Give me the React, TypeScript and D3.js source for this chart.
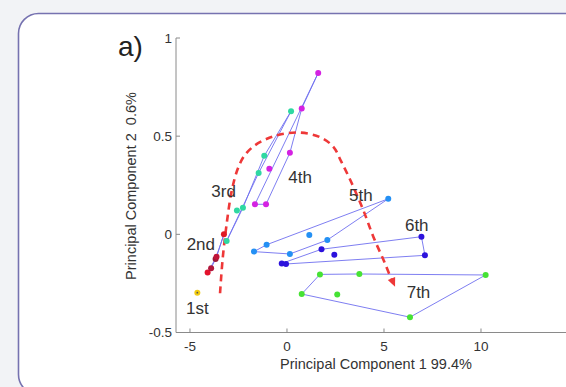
import React from "react";
import * as d3 from "d3";

// ---- data ----
const xTicks = [-5, 0, 5, 10];
const yTicks = [-0.5, 0, 0.5, 1];
const yTickLabels = ["-0.5", "0", "0.5", "1"];

const stage1Points: [number, number][] = [[-4.62, -0.297]];

const stage2Loop: [number, number][] = [
  [-4.09, -0.195], [-3.91, -0.173], [-3.68, -0.125], [-3.25, 0.0], [-3.63, -0.114],
];
const stage2Colors = ["#e3122c", "#b0163c", "#9a1838", "#e01a24", "#c0143a"];

const stage3Loop: [number, number][] = [
  [-3.11, -0.034], [-1.46, 0.313], [0.21, 0.627], [-1.17, 0.4], [-2.27, 0.135],
];
const stage3Extra: [number, number][] = [[-2.58, 0.122]];

const stage4Loop: [number, number][] = [
  [-1.65, 0.153], [-1.08, 0.153], [0.15, 0.415], [0.76, 0.641], [1.61, 0.822],
];
const stage4Extra: [number, number][] = [[-0.91, 0.334]];

const stage5Loop: [number, number][] = [
  [5.22, 0.181], [-1.05, -0.053], [-1.7, -0.088], [0.15, -0.1], [2.08, -0.029],
];
const stage5Extra: [number, number][] = [[1.15, -0.004]];

const stage6Loop: [number, number][] = [
  [-0.27, -0.148], [1.78, -0.076], [6.93, -0.012], [7.11, -0.107], [-0.05, -0.151],
];
const stage6Extra: [number, number][] = [[2.44, -0.104]];

const stage7Loop: [number, number][] = [
  [1.7, -0.204], [3.73, -0.202], [10.24, -0.207], [6.34, -0.422], [0.76, -0.304],
];
const stage7Extra: [number, number][] = [[2.59, -0.307]];

const trendCurve: [number, number][] = [
  [-3.45, -0.3], [-3.32, -0.13], [-3.1, 0.06], [-2.85, 0.22], [-2.55, 0.33],
  [-2.2, 0.4], [-1.7, 0.45], [-1.0, 0.488], [-0.3, 0.51], [0.7, 0.518],
  [1.7, 0.495], [2.39, 0.446], [2.8, 0.37], [3.34, 0.26], [3.93, 0.124],
  [4.45, -0.012], [5.05, -0.148], [5.57, -0.267],
];

const stageLabels = ["1st", "2nd", "3rd", "4th", "5th", "6th", "7th"];
const stageLabelPos: [number, number][] = [
  [-5.2, -0.405], [-5.17, -0.08], [-3.9, 0.19], [0.07, 0.26],
  [3.2, 0.17], [6.08, 0.017], [6.17, -0.325],
];

const xTitle = "Principal Component 1 99.4%";
const yTitle = "Principal Component 2  0.6%";

export default function App() {
  const W = 566, H = 387;
  const x = d3.scaleLinear().domain([-5.72, 15]).range([176, 578]);
  const y = d3.scaleLinear().domain([-0.5, 1]).range([332.5, 38]);

  const loopPath = (pts: [number, number][]) =>
    d3.line<[number, number]>().x((d) => x(d[0])).y((d) => y(d[1])).curve(d3.curveLinearClosed)(pts) || "";

  const trendPath =
    d3.line<[number, number]>().x((d) => x(d[0])).y((d) => y(d[1])).curve(d3.curveCatmullRom.alpha(0.5))(
      trendCurve.slice(0, -1).concat([[
        trendCurve[trendCurve.length - 1][0] - 0.12,
        trendCurve[trendCurve.length - 1][1] + 0.02,
      ]])
    ) || "";

  // arrow head
  const pA = trendCurve[trendCurve.length - 2];
  const pB = trendCurve[trendCurve.length - 1];
  const ax0 = x(pA[0]), ay0 = y(pA[1]);
  const ax1 = x(pB[0]), ay1 = y(pB[1]);
  const ang = Math.atan2(ay1 - ay0, ax1 - ax0);
  const L = 9, Wd = 4;
  const bx = ax1 - L * Math.cos(ang), by = ay1 - L * Math.sin(ang);
  const arrow = [
    [ax1, ay1],
    [bx + Wd * Math.sin(ang), by - Wd * Math.cos(ang)],
    [bx - Wd * Math.sin(ang), by + Wd * Math.cos(ang)],
  ].map((p) => p.join(",")).join(" ");

  const lineColor = "#7070f0";
  const dots = (pts: [number, number][], color: string | string[], key: string) =>
    pts.map((p, i) => (
      <circle
        key={key + i}
        cx={x(p[0])}
        cy={y(p[1])}
        r={3}
        fill={Array.isArray(color) ? color[i % color.length] : color}
      />
    ));

  const font = "Liberation Sans, Arial, Helvetica, sans-serif";

  return (
    <svg
      width={W}
      height={H}
      style={{ position: "fixed", left: 0, top: 0, display: "block" }}
      fontFamily={font}
    >
      <rect x={0} y={0} width={W} height={H} fill="#f2f3f6" />
      <rect x={18.5} y={13.5} width={600} height={381} rx={20} ry={20} fill="#ffffff" stroke="#7672b0" strokeWidth={1.6} />

      <text x={118} y={56} fontSize={28} fill="#222">a)</text>

      {/* axes */}
      <line x1={176} y1={38} x2={176} y2={332.5} stroke="#8a8a8a" strokeWidth={1} />
      <line x1={176} y1={332.5} x2={W} y2={332.5} stroke="#8a8a8a" strokeWidth={1} />
      {yTicks.map((t, i) => (
        <g key={"yt" + i}>
          <line x1={176} x2={180} y1={y(t)} y2={y(t)} stroke="#8a8a8a" />
          <text x={172} y={y(t)} dy="0.35em" textAnchor="end" fontSize={13.5} fill="#333">
            {yTickLabels[i]}
          </text>
        </g>
      ))}
      {xTicks.map((t, i) => (
        <g key={"xt" + i}>
          <line x1={x(t)} x2={x(t)} y1={332.5} y2={328.5} stroke="#8a8a8a" />
          <text x={x(t)} y={351} textAnchor="middle" fontSize={13.5} fill="#333">
            {t}
          </text>
        </g>
      ))}
      <text x={376} y={369} textAnchor="middle" fontSize={14.5} fill="#333">
        {xTitle}
      </text>
      <text
        transform={`translate(${136},${186}) rotate(-90)`}
        textAnchor="middle"
        fontSize={14.5}
        fill="#333"
        style={{ whiteSpace: "pre" }}
      >
        {yTitle}
      </text>

      {/* stage polygons */}
      {[stage2Loop, stage3Loop, stage4Loop, stage5Loop, stage6Loop, stage7Loop].map((pts, i) => (
        <path key={"lp" + i} d={loopPath(pts)} fill="none" stroke={lineColor} strokeWidth={1} strokeOpacity={0.9} />
      ))}

      {/* trend dashed curve */}
      <path d={trendPath} fill="none" stroke="#ee3838" strokeWidth={2.6} strokeDasharray="7,5" />
      <polygon points={arrow} fill="#ee3838" />

      {/* points */}
      {dots(stage1Points, "#f2cc10", "s1")}
      <circle cx={x(stage1Points[0][0])} cy={y(stage1Points[0][1])} r={0.9} fill="#555" />
      {dots(stage2Loop, stage2Colors, "s2")}
      {dots(stage3Loop.concat(stage3Extra), "#2fd8a2", "s3")}
      {dots(stage4Loop.concat(stage4Extra), "#d422e2", "s4")}
      {dots(stage5Loop.concat(stage5Extra), "#2490f4", "s5")}
      {dots(stage6Loop.concat(stage6Extra), "#2c12dc", "s6")}
      {dots(stage7Loop.concat(stage7Extra), "#46e234", "s7")}

      {/* stage labels */}
      {stageLabels.map((s, i) => (
        <text key={"sl" + i} x={x(stageLabelPos[i][0])} y={y(stageLabelPos[i][1])} fontSize={17} fill="#333">
          {s}
        </text>
      ))}
    </svg>
  );
}
